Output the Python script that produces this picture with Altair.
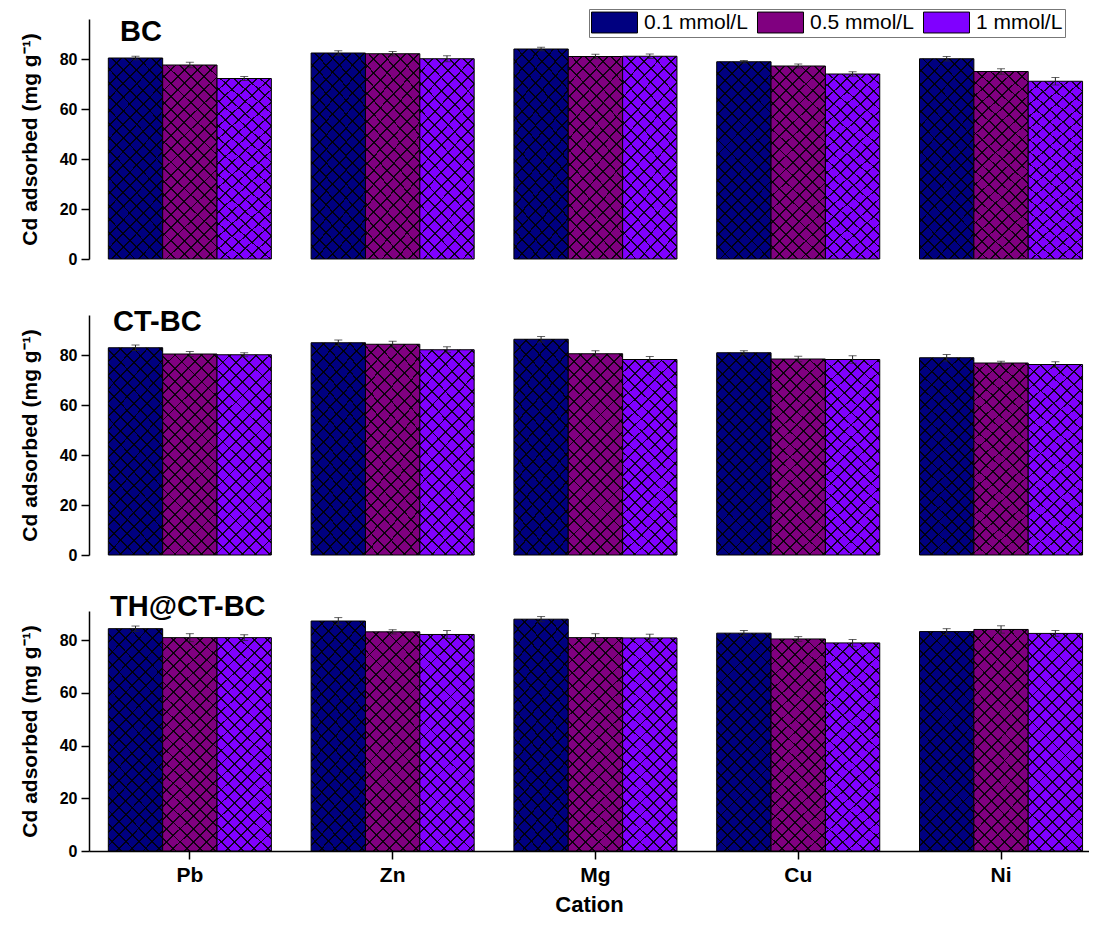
import math
import altair as alt
import pandas as pd

FONT = "Liberation Sans"

cations = ["Pb", "Zn", "Mg", "Cu", "Ni"]
series = ["0.1 mmol/L", "0.5 mmol/L", "1 mmol/L"]
colors = ["#000080", "#800080", "#8000FF"]

# BC
bc_01 = [80.4, 82.4, 84.0, 78.9, 80.1]
bc_05 = [77.6, 82.1, 81.0, 77.2, 75.0]
bc_1 = [72.2, 80.1, 81.1, 74.0, 71.1]
bc_err_01 = [0.7, 0.9, 0.7, 0.5, 0.9]
bc_err_05 = [1.1, 0.9, 0.9, 0.8, 1.1]
bc_err_1 = [0.8, 1.2, 0.9, 0.9, 1.5]

# CT-BC
ct_01 = [82.9, 84.9, 86.3, 80.9, 78.9]
ct_05 = [80.4, 84.3, 80.5, 78.4, 76.8]
ct_1 = [80.1, 82.1, 78.2, 78.2, 76.2]
ct_err_01 = [1.1, 1.1, 1.1, 0.8, 1.3]
ct_err_05 = [1.0, 1.2, 1.2, 1.1, 0.7]
ct_err_1 = [0.8, 1.2, 1.2, 1.5, 1.1]

# TH@CT-BC
th_01 = [84.3, 87.2, 87.9, 82.6, 83.2]
th_05 = [80.9, 83.1, 80.9, 80.4, 84.0]
th_1 = [80.9, 82.1, 80.8, 78.9, 82.5]
th_err_01 = [1.0, 1.3, 1.0, 1.0, 1.1]
th_err_05 = [1.5, 0.8, 1.5, 0.9, 1.4]
th_err_1 = [1.1, 1.5, 1.4, 1.3, 1.1]

W = 1000
H = 240
P_INNER = 0.196
P_OUTER = 0.0635
ALIGN = 0.75
HATCH_D = 13.3   # horizontal spacing of hatch lines (px)
HATCH_LW = 1.9   # stripe width in (x+y) units


def hatch_gradients(bar_w, bar_h):
    """Two linear gradients drawing thin diagonal stripes (cross hatch)."""
    span = bar_w + bar_h
    s = span / (bar_w ** 2 + bar_h ** 2)
    half = HATCH_LW / 2 / span
    stops = []
    k = 1
    while k * HATCH_D < span:
        t = k * HATCH_D / span
        a, b = max(t - half, 0), min(t + half, 1)
        stops += [
            alt.GradientStop(color="rgba(0,0,0,0)", offset=a),
            alt.GradientStop(color="rgba(0,0,0,0.85)", offset=a),
            alt.GradientStop(color="rgba(0,0,0,0.85)", offset=b),
            alt.GradientStop(color="rgba(0,0,0,0)", offset=b),
        ]
        k += 1
    g1 = alt.LinearGradient(gradient="linear", stops=stops,
                            x1=0, y1=0, x2=s * bar_w, y2=s * bar_h)
    g2 = alt.LinearGradient(gradient="linear", stops=stops,
                            x1=0, y1=1, x2=s * bar_w, y2=1 - s * bar_h)
    return g1, g2


def panel(name, vals, errs, ymax, tdx, tdy, show_x, show_legend):
    rows = []
    for s_name, v, e in zip(series, vals, errs):
        for c, vv, ee in zip(cations, v, e):
            rows.append(dict(cation=c, series=s_name, value=vv, lo=vv - ee, hi=vv + ee))
    df = pd.DataFrame(rows)

    x_scale = alt.Scale(domain=cations, paddingInner=P_INNER,
                        paddingOuter=P_OUTER, align=ALIGN)
    if show_x:
        x_axis = alt.Axis(title="Cation", labelAngle=0, domainColor="black",
                          domainWidth=1.5, tickColor="black", tickWidth=1.5,
                          tickSize=8, labelFont=FONT, labelFontSize=21,
                          labelFontWeight="bold", labelColor="black",
                          labelPadding=5, titleFont=FONT, titleFontSize=22,
                          titleFontWeight="bold", titleColor="black",
                          titlePadding=9)
        x = alt.X("cation:N", scale=x_scale, axis=x_axis)
    else:
        x = alt.X("cation:N", scale=x_scale, axis=None)

    xo = alt.XOffset("series:N", scale=alt.Scale(domain=series, paddingInner=0,
                                                 paddingOuter=0))
    y_scale = alt.Scale(domain=[0, ymax], nice=False, zero=True)
    y_axis = alt.Axis(title="Cd adsorbed (mg g⁻¹)", values=[0, 20, 40, 60, 80],
                      grid=False, domainColor="black", domainWidth=1.5,
                      tickColor="black", tickWidth=1.5, tickSize=8,
                      labelFont=FONT, labelFontSize=16, labelFontWeight="bold",
                      labelColor="black", labelPadding=4, titleFont=FONT,
                      titleFontSize=21, titleFontWeight="bold",
                      titleColor="black", titlePadding=19)

    if show_legend:
        legend = alt.Legend(title=None, orient="none", legendX=500, legendY=-10,
                            direction="horizontal",
                            symbolType="M-2.09,-0.95H2.09V0.95H-2.09Z",
                            symbolSize=484, symbolOffset=12,
                            symbolStrokeColor="black",
                            symbolStrokeWidth=1, symbolOpacity=1,
                            labelFont=FONT, labelFontSize=21, labelColor="black",
                            labelOffset=18, columnPadding=7, padding=2,
                            strokeColor="#777777", fillColor="white",
                            labelLimit=0)
    else:
        legend = None

    color = alt.Color("series:N", scale=alt.Scale(domain=series, range=colors),
                      legend=legend)

    base = alt.Chart(df)
    bars = base.mark_bar(stroke="black", strokeWidth=1, opacity=1).encode(
        x=x, xOffset=xo, y=alt.Y("value:Q", scale=y_scale, axis=y_axis),
        color=color)

    step = W / (len(cations) - P_INNER + 2 * P_OUTER)
    bar_w = step * (1 - P_INNER) / len(series)
    bar_h = sum(sum(v) for v in vals) / 15.0 / ymax * H
    g1, g2 = hatch_gradients(bar_w, bar_h)

    hatch1 = base.mark_bar(fill=g1).encode(
        x=x, xOffset=xo, y=alt.Y("value:Q", scale=y_scale, axis=y_axis))
    hatch2 = base.mark_bar(fill=g2).encode(
        x=x, xOffset=xo, y=alt.Y("value:Q", scale=y_scale, axis=y_axis))

    rule = base.mark_rule(color="#222222", strokeWidth=1).encode(
        x=x, xOffset=xo, y=alt.Y("lo:Q", scale=y_scale, axis=y_axis),
        y2="hi:Q")
    cap_hi = base.mark_tick(color="#222222", thickness=1, size=8).encode(
        x=x, xOffset=xo, y=alt.Y("hi:Q", scale=y_scale, axis=y_axis))
    cap_lo = base.mark_tick(color="#222222", thickness=1, size=8).encode(
        x=x, xOffset=xo, y=alt.Y("lo:Q", scale=y_scale, axis=y_axis))

    label = alt.Chart(pd.DataFrame({"label": [name]})).mark_text(
        align="left", baseline="alphabetic", font=FONT, fontSize=29,
        fontWeight="bold", color="black").encode(
        x=alt.value(tdx), y=alt.value(tdy), text="label:N")

    return alt.layer(bars, hatch1, hatch2, rule, cap_hi, cap_lo, label).properties(
        width=W, height=H)


p1 = panel("BC", [bc_01, bc_05, bc_1], [bc_err_01, bc_err_05, bc_err_1],
           96, 31, 22, False, True)
p2 = panel("CT-BC", [ct_01, ct_05, ct_1], [ct_err_01, ct_err_05, ct_err_1],
           96, 24, 16, False, False)
p3 = panel("TH@CT-BC", [th_01, th_05, th_1], [th_err_01, th_err_05, th_err_1],
           91, 21, 5, True, False)

chart = alt.vconcat(p1, p2, p3, spacing=56, bounds="flush").resolve_legend(
    color="independent").properties(
    padding={"left": 11, "top": 0, "right": 0, "bottom": 0}
).configure(
    background="white",
    view=alt.ViewConfig(stroke="transparent", strokeWidth=0),
)

chart.save("out.html", embed_options={"renderer": "svg", "actions": False})
